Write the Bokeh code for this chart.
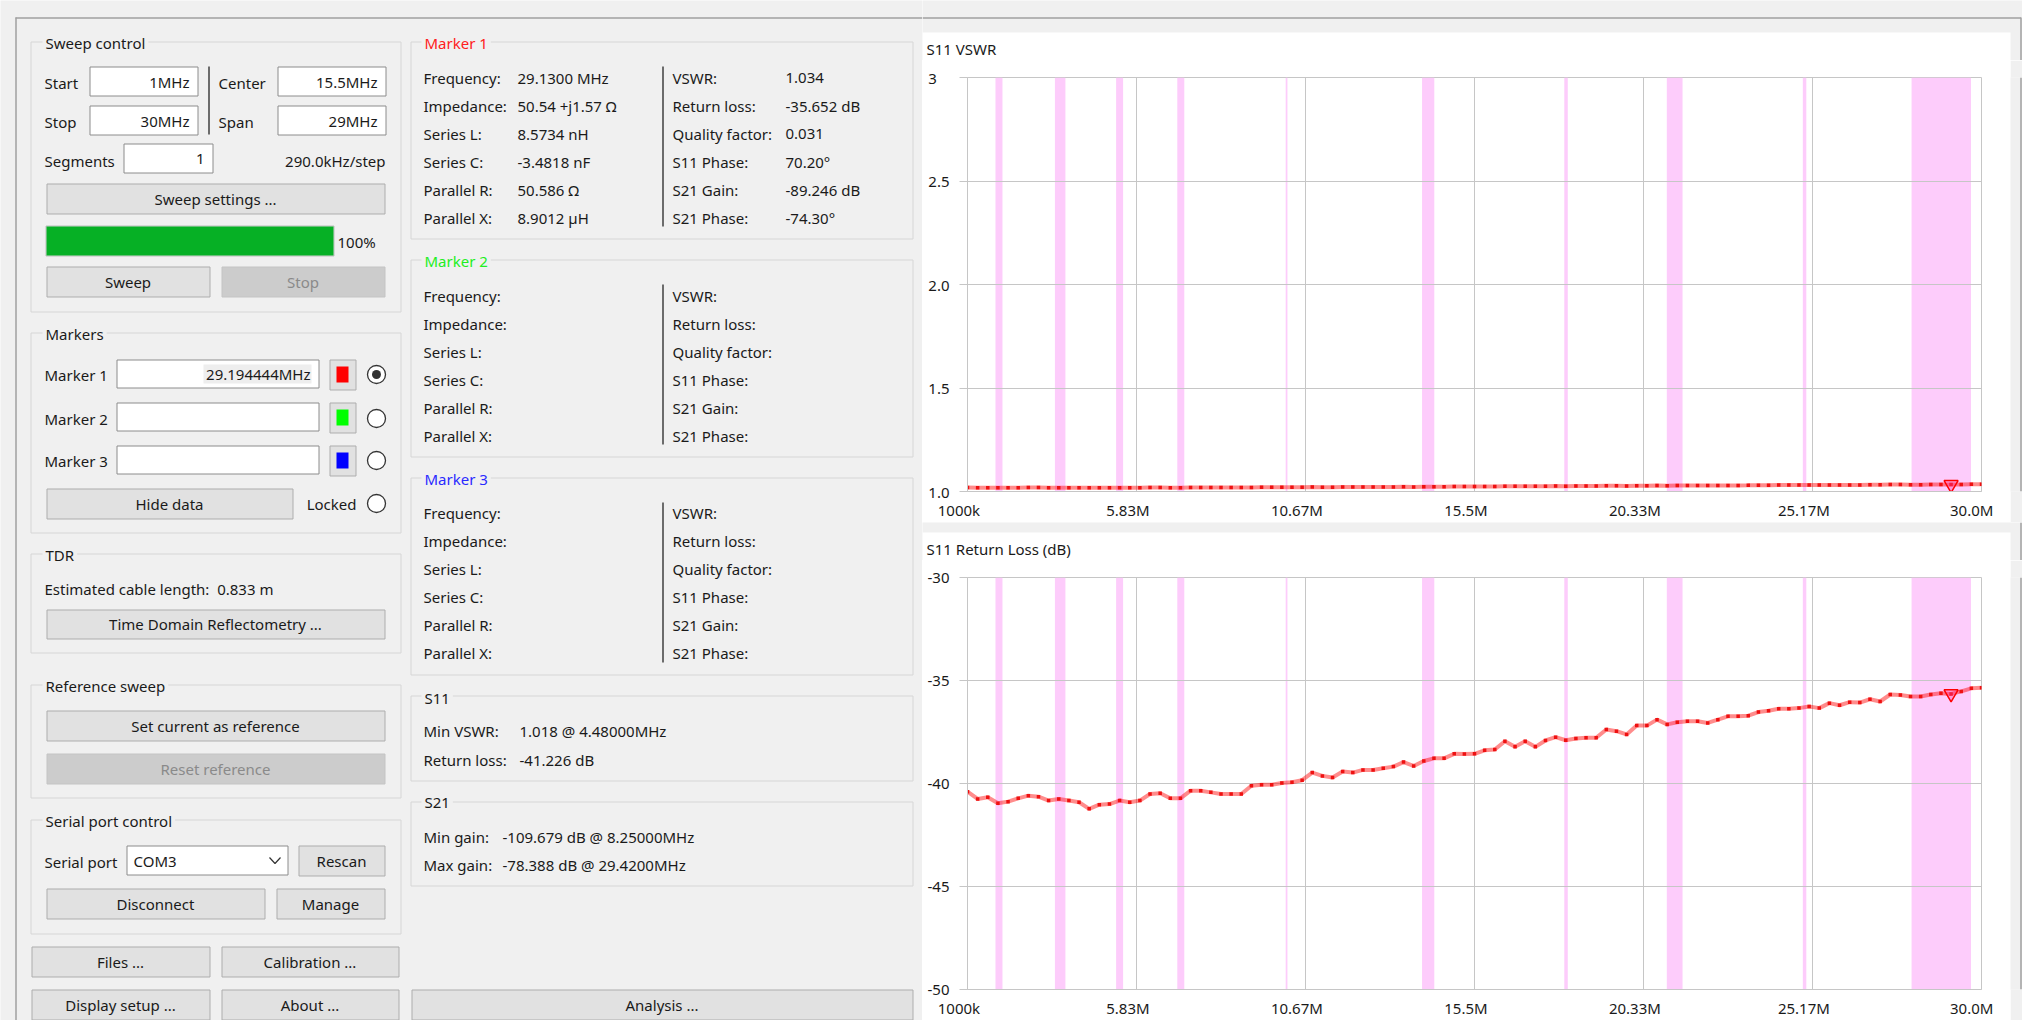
from bokeh.plotting import figure
from bokeh.layouts import row, column
from bokeh.models import Range1d, FixedTicker, BoxAnnotation, ColumnDataSource
from bokeh.core.properties import value
from bokeh.embed import file_html
from bokeh.resources import INLINE

FONT = "Noto Sans"
BG = "#f0f0f0"
TXT = "#1a1a1a"

# ---------------- chart data ----------------
freq_mhz = [
    1.00, 1.29, 1.58, 1.87, 2.16, 2.45, 2.74, 3.03, 3.32, 3.61,
    3.90, 4.19, 4.48, 4.77, 5.06, 5.35, 5.64, 5.93, 6.22, 6.51,
    6.80, 7.09, 7.38, 7.67, 7.96, 8.25, 8.54, 8.83, 9.12, 9.41,
    9.70, 9.99, 10.28, 10.57, 10.86, 11.15, 11.44, 11.73, 12.02, 12.31,
    12.60, 12.89, 13.18, 13.47, 13.76, 14.05, 14.34, 14.63, 14.92, 15.21,
    15.50, 15.79, 16.08, 16.37, 16.66, 16.95, 17.24, 17.53, 17.82, 18.11,
    18.40, 18.69, 18.98, 19.27, 19.56, 19.85, 20.14, 20.43, 20.72, 21.01,
    21.30, 21.59, 21.88, 22.17, 22.46, 22.75, 23.04, 23.33, 23.62, 23.91,
    24.20, 24.49, 24.78, 25.07, 25.36, 25.65, 25.94, 26.23, 26.52, 26.81,
    27.10, 27.39, 27.68, 27.97, 28.26, 28.55, 28.84, 29.13, 29.42, 29.71,
    30.00,
]
s11_return_loss_db = [
    -40.40, -40.75, -40.67, -40.96, -40.88, -40.72, -40.59, -40.64, -40.83, -40.75,
    -40.83, -40.91, -41.23, -41.03, -41.00, -40.83, -40.91, -40.83, -40.51, -40.47,
    -40.72, -40.72, -40.35, -40.35, -40.43, -40.51, -40.51, -40.51, -40.11, -40.06,
    -40.06, -39.98, -39.94, -39.84, -39.47, -39.63, -39.71, -39.42, -39.47, -39.34,
    -39.34, -39.26, -39.18, -38.96, -39.15, -38.91, -38.78, -38.78, -38.56, -38.57,
    -38.56, -38.39, -38.35, -37.95, -38.22, -37.95, -38.22, -37.91, -37.75, -37.90,
    -37.82, -37.78, -37.78, -37.38, -37.46, -37.62, -37.19, -37.19, -36.90, -37.13,
    -37.03, -36.98, -36.98, -37.06, -36.90, -36.74, -36.74, -36.71, -36.53, -36.47,
    -36.37, -36.37, -36.34, -36.26, -36.34, -36.10, -36.20, -36.05, -36.07, -35.91,
    -36.02, -35.68, -35.70, -35.78, -35.78, -35.68, -35.62, -35.65, -35.53, -35.38,
    -35.35,
]
s11_vswr = [
    1.0193, 1.0185, 1.0187, 1.0181, 1.0182, 1.0186, 1.0189, 1.0188, 1.0183, 1.0185,
    1.0183, 1.0182, 1.0176, 1.0179, 1.0180, 1.0183, 1.0182, 1.0183, 1.0190, 1.0191,
    1.0186, 1.0186, 1.0194, 1.0194, 1.0192, 1.0190, 1.0190, 1.0190, 1.0199, 1.0201,
    1.0201, 1.0203, 1.0204, 1.0206, 1.0215, 1.0211, 1.0209, 1.0216, 1.0215, 1.0218,
    1.0218, 1.0220, 1.0222, 1.0228, 1.0223, 1.0229, 1.0233, 1.0233, 1.0239, 1.0239,
    1.0239, 1.0244, 1.0245, 1.0256, 1.0249, 1.0256, 1.0249, 1.0258, 1.0262, 1.0258,
    1.0260, 1.0262, 1.0262, 1.0274, 1.0272, 1.0267, 1.0280, 1.0280, 1.0290, 1.0282,
    1.0286, 1.0287, 1.0287, 1.0285, 1.0290, 1.0295, 1.0295, 1.0296, 1.0303, 1.0305,
    1.0308, 1.0308, 1.0310, 1.0312, 1.0310, 1.0318, 1.0315, 1.0320, 1.0319, 1.0325,
    1.0321, 1.0334, 1.0334, 1.0330, 1.0330, 1.0334, 1.0337, 1.0336, 1.0340, 1.0346,
    1.0348,
]
ham_band_start_mhz = [1.8, 3.5, 5.25, 7.0, 10.1, 14.0, 18.068, 21.0, 24.89, 28.0]
ham_band_stop_mhz = [2.0, 3.8, 5.45, 7.2, 10.15, 14.35, 18.168, 21.45, 24.99, 29.7]
x_tick_values = [1.0, 5.833333333333333, 10.666666666666666, 15.5,
                 20.333333333333332, 25.166666666666668, 30.0]
x_tick_labels = ["1000k", "5.83M", "10.67M", "15.5M", "20.33M", "25.17M", "30.0M"]
vswr_ticks = [1.0, 1.5, 2.0, 2.5, 3.0]
vswr_tick_labels = ["1.0", "1.5", "2.0", "2.5", "3"]
rl_ticks = [-50, -45, -40, -35, -30]
rl_tick_labels = ["-50", "-45", "-40", "-35", "-30"]
marker1_index = 97

# label padding (figure / punctuation spaces) so that tick texts sit like the original
X_LABEL_PAD = "\u2007\u2007"
Y_LABEL_PAD = {"3": "\u2008\u2007"}


# ---------------- helpers ----------------
def quads(fig, rects, fill, line, lw=1):
    if not rects:
        return
    l, t, r, b = zip(*rects)
    fig.quad(left=list(l), right=list(r), top=list(t), bottom=list(b),
             fill_color=fill, line_color=line, line_width=lw)


def put_text(fig, items, align="left", color=TXT, size="15px", bg=None):
    if not items:
        return
    t, x, y = zip(*items)
    src = ColumnDataSource(dict(x=list(x), y=list(y), text=list(t)))
    kw = {}
    if bg is not None:
        kw = dict(background_fill_color=bg, padding=3)
    fig.text(x="x", y="y", text="text", source=src, text_align=align,
             text_baseline="middle", text_color=color, text_font=value(FONT),
             text_font_size=size, **kw)


def canvas(x0, x1, y0, y1, bg=BG):
    f = figure(width=x1 - x0, height=y1 - y0, x_range=Range1d(x0, x1),
               y_range=Range1d(y1, y0), output_backend="svg", toolbar_location=None,
               min_border=0, x_axis_location=None, y_axis_location=None,
               background_fill_color=bg, border_fill_color=bg, outline_line_color=None)
    f.grid.visible = False
    return f


FRAME = "#a0a0a0"
FRAME_X = 2020.5


def frame_lines(f, segs):
    if not segs:
        return
    x0, y0, x1, y1 = zip(*segs)
    f.segment(x0=list(x0), y0=list(y0), x1=list(x1), y1=list(y1),
              line_color=FRAME, line_width=1.5)


# ---------------- left UI panel ----------------
ui = canvas(0, 922, 0, 1020)
frame_lines(ui, [(15, 17.5, 922, 17.5), (15.5, 17, 15.5, 1020)])

group_boxes = [
    (30, 41, 400, 311), (30, 332, 400, 532), (30, 553, 400, 652),
    (30, 684, 400, 797), (30, 819, 400, 933),
    (410, 41, 912, 238), (410, 259, 912, 456), (410, 477, 912, 674),
    (410, 695, 912, 780), (410, 801, 912, 885),
]
quads(ui, [(l + .5, t + .5, r + .5, b + .5) for l, t, r, b in group_boxes], None, "#d6d6d6")

put_text(ui, [("Sweep control", 42, 42), ("Markers", 42, 333), ("TDR", 42, 554),
              ("Reference sweep", 42, 685), ("Serial port control", 42, 820),
              ("S11", 421, 697), ("S21", 421, 801)], bg=BG)
put_text(ui, [("Marker 1", 421, 42)], color="#ff2020", bg=BG)
put_text(ui, [("Marker 2", 421, 260)], color="#22ee22", bg=BG)
put_text(ui, [("Marker 3", 421, 478)], color="#2a2aff", bg=BG)

# input fields
inputs = [(89, 66, 197, 95), (277, 66, 385, 95), (89, 105, 197, 134), (277, 105, 385, 134),
          (123, 143, 212, 172), (116, 359, 318, 387), (116, 402, 318, 430),
          (116, 445, 318, 473), (126, 845, 287, 874)]
quads(ui, [(l + .5, t + .5, r + .5, b + .5) for l, t, r, b in inputs], "white", "#8c8c8c")
quads(ui, [(203, 364, 311, 383)], "#eeeeee", None)
put_text(ui, [("1MHz", 189, 81), ("15.5MHz", 377, 81), ("30MHz", 189, 120),
              ("29MHz", 377, 120), ("1", 204, 158), ("29.194444MHz", 310, 373),
              ("290.0kHz/step", 385, 160), ("Locked", 356, 503)], align="right")
ui.multi_line(xs=[[269, 274.5, 280]], ys=[[857, 863, 857]], line_color="#333333", line_width=1.2)

# separator lines
ui.segment(x0=[208.5, 662.5, 662.5, 662.5], y0=[66, 66, 284, 502],
           x1=[208.5, 662.5, 662.5, 662.5], y1=[134, 226, 444, 662],
           line_color="#404040", line_width=1.5)

put_text(ui, [("Start", 44, 82), ("Stop", 44, 121), ("Center", 218, 82), ("Span", 218, 121),
              ("Segments", 44, 160), ("100%", 337, 241),
              ("Marker 1", 44, 374), ("Marker 2", 44, 418), ("Marker 3", 44, 460),
              ("Estimated cable length:\u00a0 0.833 m", 44, 588), ("Serial port", 44, 861),
              ("COM3", 133, 860)])

# buttons
buttons = [("Sweep settings ...", 46, 183, 384, 213), ("Sweep", 46, 266, 209, 296),
           ("Hide data", 46, 488, 292, 518), ("Time Domain Reflectometry ...", 46, 609, 384, 638),
           ("Set current as reference", 46, 710, 384, 740), ("Rescan", 298, 845, 384, 875),
           ("Disconnect", 46, 888, 264, 918), ("Manage", 276, 888, 384, 918),
           ("Files ...", 31, 946, 209, 976), ("Calibration ...", 221, 946, 398, 976),
           ("Display setup ...", 31, 989, 209, 1019), ("About ...", 221, 989, 398, 1019),
           ("Analysis ...", 411, 989, 912, 1019)]
disabled = [("Stop", 221, 266, 384, 296), ("Reset reference", 46, 753, 384, 783)]
quads(ui, [(l + .5, t + .5, r + .5, b + .5) for _, l, t, r, b in buttons], "#e1e1e1", "#adadad")
quads(ui, [(l + .5, t + .5, r + .5, b + .5) for _, l, t, r, b in disabled], "#cccccc", "#c4c4c4")
put_text(ui, [(s, (l + r) / 2, (t + b) / 2) for s, l, t, r, b in buttons], align="center")
put_text(ui, [(s, (l + r) / 2, (t + b) / 2) for s, l, t, r, b in disabled], align="center",
         color="#8a8a8a")

# progress bar
quads(ui, [(45.5, 225.5, 333.5, 255.5)], "#e6e6e6", "#bcbcbc")
quads(ui, [(46, 226, 333, 255)], "#06b025", None)

# marker colour buttons
quads(ui, [(329.5, 359.5, 355.5, 389.5), (329.5, 402.5, 355.5, 432.5), (329.5, 445.5, 355.5, 475.5)],
      "#e1e1e1", "#adadad")
ui.quad(left=[336, 336, 336], right=[348, 348, 348], top=[366, 409, 452], bottom=[382, 425, 468],
        fill_color=["#ff0000", "#00ff00", "#0000ff"], line_color=None)

# radio buttons
ui.circle(x=[376, 376, 376, 376], y=[374, 418, 460, 503], radius=9,
          fill_color="white", line_color="#333333", line_width=1.3)
ui.circle(x=[376], y=[374], radius=4.5, fill_color="#333333", line_color=None)

# marker info panels
left_labels = ["Frequency:", "Impedance:", "Series L:", "Series C:", "Parallel R:", "Parallel X:"]
right_labels = ["VSWR:", "Return loss:", "Quality factor:", "S11 Phase:", "S21 Gain:", "S21 Phase:"]
m1_left_values = ["29.1300 MHz", "50.54 +j1.57 \u03a9", "8.5734 nH", "-3.4818 nF",
                  "50.586 \u03a9", "8.9012 \u00b5H"]
m1_right_values = ["1.034", "-35.652 dB", "0.031", "70.20\u00b0", "-89.246 dB", "-74.30\u00b0"]
info = []
for y0 in (77, 295, 512):
    for i in range(6):
        info.append((left_labels[i], 423, y0 + 28 * i))
        info.append((right_labels[i], 672, y0 + 28 * i))
for i in range(6):
    info.append((m1_left_values[i], 517, 77 + 28 * i))
    info.append((m1_right_values[i], 785, 77 + 28 * i))
info += [("Min VSWR:", 423, 730), ("1.018 @ 4.48000MHz", 519, 730),
         ("Return loss:", 423, 759), ("-41.226 dB", 519, 759),
         ("Min gain:", 423, 836), ("-109.679 dB @ 8.25000MHz", 502, 836),
         ("Max gain:", 423, 864), ("-78.388 dB @ 29.4200MHz", 502, 864)]
put_text(ui, info)


# ---------------- charts ----------------
GRID = "#c6c6c6"


def make_chart(yvals, yr, yticks, ylabels, h, mb_bottom):
    p = figure(width=1088, height=h, x_range=Range1d(1, 30), y_range=Range1d(*yr),
               output_backend="svg", toolbar_location=None,
               min_border_left=45, min_border_right=29, min_border_top=17,
               min_border_bottom=mb_bottom, background_fill_color="white",
               border_fill_color="white", outline_line_color=GRID)
    for s, e in zip(ham_band_start_mhz, ham_band_stop_mhz):
        p.add_layout(BoxAnnotation(left=s, right=e, fill_color="#fdccfb", fill_alpha=1.0,
                                   line_color=None, level="image"))
    p.xaxis.ticker = FixedTicker(ticks=x_tick_values)
    p.xgrid.ticker = FixedTicker(ticks=x_tick_values)
    p.xaxis.major_label_overrides = {v: s + X_LABEL_PAD for v, s in zip(x_tick_values, x_tick_labels)}
    p.yaxis.ticker = FixedTicker(ticks=yticks)
    p.ygrid.ticker = FixedTicker(ticks=yticks)
    p.yaxis.major_label_overrides = {v: s + Y_LABEL_PAD.get(s, "") for v, s in zip(yticks, ylabels)}
    for ax in (p.xaxis[0], p.yaxis[0]):
        ax.axis_line_color = GRID
        ax.major_tick_line_color = GRID
        ax.minor_tick_line_color = None
        ax.major_tick_in = 0
        ax.major_label_text_font = FONT
        ax.major_label_text_font_size = "15px"
        ax.major_label_text_color = TXT
    p.xaxis.major_tick_out = 0
    p.xaxis.major_label_standoff = 8
    p.yaxis.major_tick_out = 8
    p.yaxis.major_label_standoff = 10
    p.grid.grid_line_color = GRID
    p.grid.grid_line_width = 1
    p.line(freq_mhz, yvals, line_color="#ff0000", line_alpha=0.45, line_width=4)
    p.scatter(freq_mhz, yvals, marker="square", size=3.5, fill_color="#ee1111",
              line_color=None)
    p.scatter([freq_mhz[marker1_index]], [yvals[marker1_index]], marker="inverted_triangle",
              size=14, line_color="#ff0000", line_width=1.5, fill_color="#ff3399",
              fill_alpha=0.35)
    return p


vswr_chart = make_chart(s11_vswr, (1.0, 3.0), vswr_ticks, vswr_tick_labels, 462, 29)
rl_chart = make_chart(s11_return_loss_db, (-50, -30), rl_ticks, rl_tick_labels, 460, 28)

# ---------------- right-hand gaps, chart titles, frame ----------------
top_gap = canvas(922, 2022, 0, 60)
quads(top_gap, [(922, 32, 2010, 60)], "white", None)
frame_lines(top_gap, [(922, 17.5, FRAME_X, 17.5), (FRAME_X, 17, FRAME_X, 60)])
put_text(top_gap, [("S11 VSWR", 926, 48)])

strip1 = canvas(2010, 2022, 60, 522)
frame_lines(strip1, [(FRAME_X, 60, FRAME_X, 522)])

mid_gap = canvas(922, 2022, 522, 560)
quads(mid_gap, [(922, 532, 2010, 560)], "white", None)
frame_lines(mid_gap, [(FRAME_X, 522, FRAME_X, 560)])
put_text(mid_gap, [("S11 Return Loss (dB)", 926, 548)])

strip2 = canvas(2010, 2022, 560, 1020)
frame_lines(strip2, [(FRAME_X, 560, FRAME_X, 1020)])

right = column(top_gap,
               row(vswr_chart, strip1),
               mid_gap,
               row(rl_chart, strip2))
layout = row(ui, right)

open("out.html", "w").write(file_html(layout, INLINE))
